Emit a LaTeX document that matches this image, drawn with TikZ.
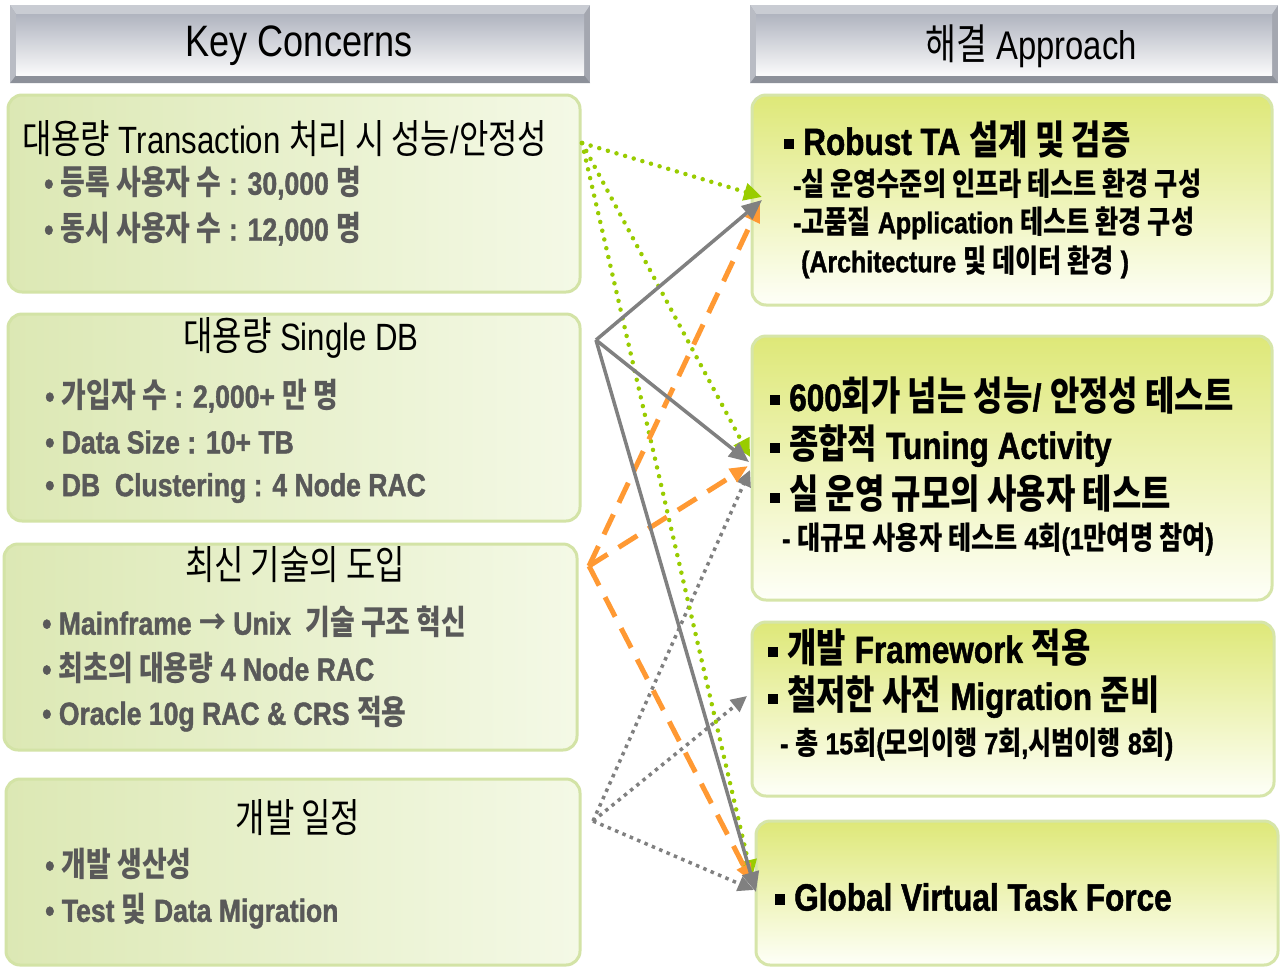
\documentclass[tikz,border=0pt]{standalone}
\usepackage{fontspec}
\setmainfont{Liberation Sans}[FakeStretch=0.82, BoldFont={Liberation Sans Bold}, BoldFeatures={FakeStretch=0.83, FakeBold=1.3}]
\newfontfamily\kofont{Noto Sans CJK KR}[FakeStretch=0.8,Scale=1.05]
\newcommand\ko[1]{{\kofont #1}}
\newcommand\sqb{\rule[0.16em]{0.27em}{0.27em}}
\usetikzlibrary{arrows.meta}
\definecolor{lbd}{HTML}{D3E3A6}
\definecolor{lgA}{HTML}{DCE8B4}
\definecolor{lgB}{HTML}{F4F9E6}
\definecolor{rbd}{HTML}{D6E5A9}
\definecolor{rgA}{HTML}{DEE878}
\definecolor{rgB}{HTML}{FEFFF8}
\definecolor{bulgray}{HTML}{595959}
\definecolor{gdc}{HTML}{99CC00}
\definecolor{orc}{HTML}{FF9933}
\definecolor{gyc}{HTML}{808080}
\definecolor{hdA}{HTML}{B0B4BF}
\definecolor{hdB}{HTML}{FAFAFB}
\definecolor{bvT}{HTML}{C9CCD3}
\definecolor{bvB}{HTML}{8C9099}
\definecolor{bvL}{HTML}{B9BCC4}
\definecolor{bvR}{HTML}{A4A7B0}
\tikzset{
  lbox/.style={rounded corners=14pt, draw=lbd, line width=3pt, left color=lgA, right color=lgB},
  rbox/.style={rounded corners=14pt, draw=rbd, line width=3pt, top color=rgA, bottom color=rgB},
  hdface/.style={top color=hdA, bottom color=hdB, inner sep=0},
  hdtxt/.style={font=\fontsize{44}{50}\selectfont, inner sep=0},
  ttl/.style={font=\fontsize{38}{45}\selectfont, text=black, inner sep=0},
  lbul/.style={font=\fontsize{32}{38}\selectfont\bfseries, text=bulgray, anchor=west, inner sep=0},
  rhead/.style={font=\fontsize{38}{44}\selectfont\bfseries, anchor=west, inner sep=0},
  rsub/.style={font=\fontsize{30}{36}\selectfont\bfseries, anchor=west, inner sep=0},
  gdot/.style={draw=gdc, line width=4.5pt, dash pattern=on 0pt off 9pt, line cap=round, -{Triangle[length=18pt,width=17pt]}},
  gsol/.style={draw=gyc, line width=3.5pt, -{Triangle[length=20pt,width=17pt]}},
  odash/.style={draw=orc, line width=5pt, dash pattern=on 22pt off 13pt, -{Triangle[length=18pt,width=15pt]}},
  gdotsq/.style={draw=gyc, line width=3.5pt, dash pattern=on 3.5pt off 4.5pt, -{Triangle[length=16pt,width=15pt]}}
}
\begin{document}
\begin{tikzpicture}[x=1pt,y=-1pt]
\useasboundingbox (0,0) rectangle (1281,967);
\fill[white] (0,0) rectangle (1281,967);

% ---------- headers ----------
\fill[bvR] (10,5) rectangle (590,83);
\fill[bvT] (10,5) -- (590,5) -- (584,14) -- (16,14) -- cycle;
\fill[bvB] (10,83) -- (590,83) -- (584,75) -- (16,75) -- cycle;
\fill[bvL] (10,5) -- (16,14) -- (16,75) -- (10,83) -- cycle;
\draw[white, line width=1pt] (16,74.5) -- (584,74.5);
\node[hdface, minimum width=568pt, minimum height=61pt] (HKf) at (300,44.5) {};
\node[hdtxt] (HK) at (299,46) {Key Concerns};

\fill[bvR] (750,5) rectangle (1278,83);
\fill[bvT] (750,5) -- (1278,5) -- (1272,14) -- (756,14) -- cycle;
\fill[bvB] (750,83) -- (1278,83) -- (1272,75) -- (756,75) -- cycle;
\fill[bvL] (750,5) -- (756,14) -- (756,75) -- (750,83) -- cycle;
\draw[white, line width=1pt] (756,74.5) -- (1272,74.5);
\node[hdface, minimum width=516pt, minimum height=61pt] (HAf) at (1014,44.5) {};
\node[hdtxt, font=\fontsize{40}{46}\selectfont] (HA) at (1031,46) {\ko{해결} Approach};

% ---------- left boxes ----------
\node[lbox, minimum width=572pt, minimum height=197pt] (L1) at (294,193.5) {};
\node[ttl, anchor=west] (L1t) at (22,139) {\ko{대용량} Transaction \ko{처리 시 성능}/\ko{안정성}};
\node[lbul] (L1a) at (44,183) {• \ko{등록 사용자 수} : 30,000 \ko{명}};
\node[lbul] (L1b) at (44,229) {• \ko{동시 사용자 수} : 12,000 \ko{명}};

\node[lbox, minimum width=572pt, minimum height=207pt] (L2) at (294,417.5) {};
\node[ttl] (L2t) at (301,338) {\ko{대용량} Single DB};
\node[lbul] (L2a) at (45,396) {• \ko{가입자 수} : 2,000+ \ko{만 명}};
\node[lbul] (L2b) at (45,442) {• Data Size : 10+ TB};
\node[lbul] (L2c) at (45,488) {• DB\ \ Clustering : 4 Node RAC};

\node[lbox, minimum width=573pt, minimum height=206pt] (L3) at (290.5,647) {};
\node[ttl] (L3t) at (295,565) {\ko{최신 기술의 도입}};
\node[lbul] (L3a) at (42,622) {• Mainframe \ko{→} Unix\ \ \ko{기술 구조 혁신}};
\node[lbul] (L3b) at (42,668) {• \ko{최초의 대용량} 4 Node RAC};
\node[lbul] (L3c) at (42,714) {• Oracle 10g RAC \& CRS \ko{적용}};

\node[lbox, minimum width=574pt, minimum height=186pt] (L4) at (293,872) {};
\node[ttl] (L4t) at (298,818) {\ko{개발 일정}};
\node[lbul] (L4a) at (45,864) {• \ko{개발 생산성}};
\node[lbul] (L4b) at (45,911) {• Test \ko{및} Data Migration};

% ---------- right boxes ----------
\node[rbox, minimum width=520pt, minimum height=210pt] (R1) at (1012,200) {};
\node[rhead] (R1a) at (784,140) {\sqb\ Robust TA \ko{설계 및 검증}};
\node[rsub] (R1b) at (793,184) {-\ko{실 운영수준의 인프라 테스트 환경 구성}};
\node[rsub] (R1c) at (793,223) {-\ko{고품질} Application \ko{테스트 환경 구성}};
\node[rsub] (R1d) at (801,262) {(Architecture \ko{및 데이터 환경} )};

\node[rbox, minimum width=520pt, minimum height=264pt] (R2) at (1012,468) {};
\node[rhead] (R2a) at (770,396) {\sqb\ 600\ko{회가 넘는 성능}/ \ko{안정성 테스트}};
\node[rhead] (R2b) at (770,446) {\sqb\ \ko{종합적} Tuning Activity};
\node[rhead] (R2c) at (770,494) {\sqb\ \ko{실 운영 규모의 사용자 테스트}};
\node[rsub] (R2d) at (782,539) {- \ko{대규모 사용자 테스트} 4\ko{회}(1\ko{만여명 참여})};

\node[rbox, minimum width=522pt, minimum height=174pt] (R3) at (1013,709) {};
\node[rhead] (R3a) at (768,648) {\sqb\ \ko{개발} Framework \ko{적용}};
\node[rhead] (R3b) at (768,697) {\sqb\ \ko{철저한 사전} Migration \ko{준비}};
\node[rsub] (R3c) at (780,744) {- \ko{총} 15\ko{회}(\ko{모의이행} 7\ko{회},\ko{시범이행} 8\ko{회})};

\node[rbox, minimum width=522pt, minimum height=144pt] (R4) at (1017,893) {};
\node[rhead] (R4a) at (775,897) {\sqb\ Global Virtual Task Force};

% ---------- connector end points ----------
\coordinate (gS) at (582,143);
\coordinate (sS) at (596,340);
\coordinate (oS) at (589,566);
\coordinate (dS) at (593,821);
\coordinate (gT1) at (762,197);
\coordinate (gT2) at (750,457);
\coordinate (gT4) at (752,878);
\coordinate (sT1) at (762,200);
\coordinate (sT2) at (749,462);
\coordinate (sT4) at (756,892);
\coordinate (oT1) at (760,204);
\coordinate (oT2) at (748,466);
\coordinate (oT4) at (752,882);
\coordinate (dT2) at (750,470);
\coordinate (dT3) at (747,696);
\coordinate (dT4) at (754,890);

% ---------- connectors ----------
\draw[gdotsq] (dS) -- (dT2);
\draw[gdotsq] (dS) -- (dT3);
\draw[gdotsq] (dS) -- (dT4);
\draw[gdot] (gS) -- (gT1);
\draw[gdot] (gS) -- (gT2);
\draw[gdot] (gS) -- (gT4);
\draw[odash] (oS) -- (oT1);
\draw[odash] (oS) -- (oT2);
\draw[odash] (oS) -- (oT4);
\draw[gsol] (sS) -- (sT1);
\draw[gsol] (sS) -- (sT2);
\draw[gsol] (sS) -- (sT4);
\end{tikzpicture}
\end{document}
